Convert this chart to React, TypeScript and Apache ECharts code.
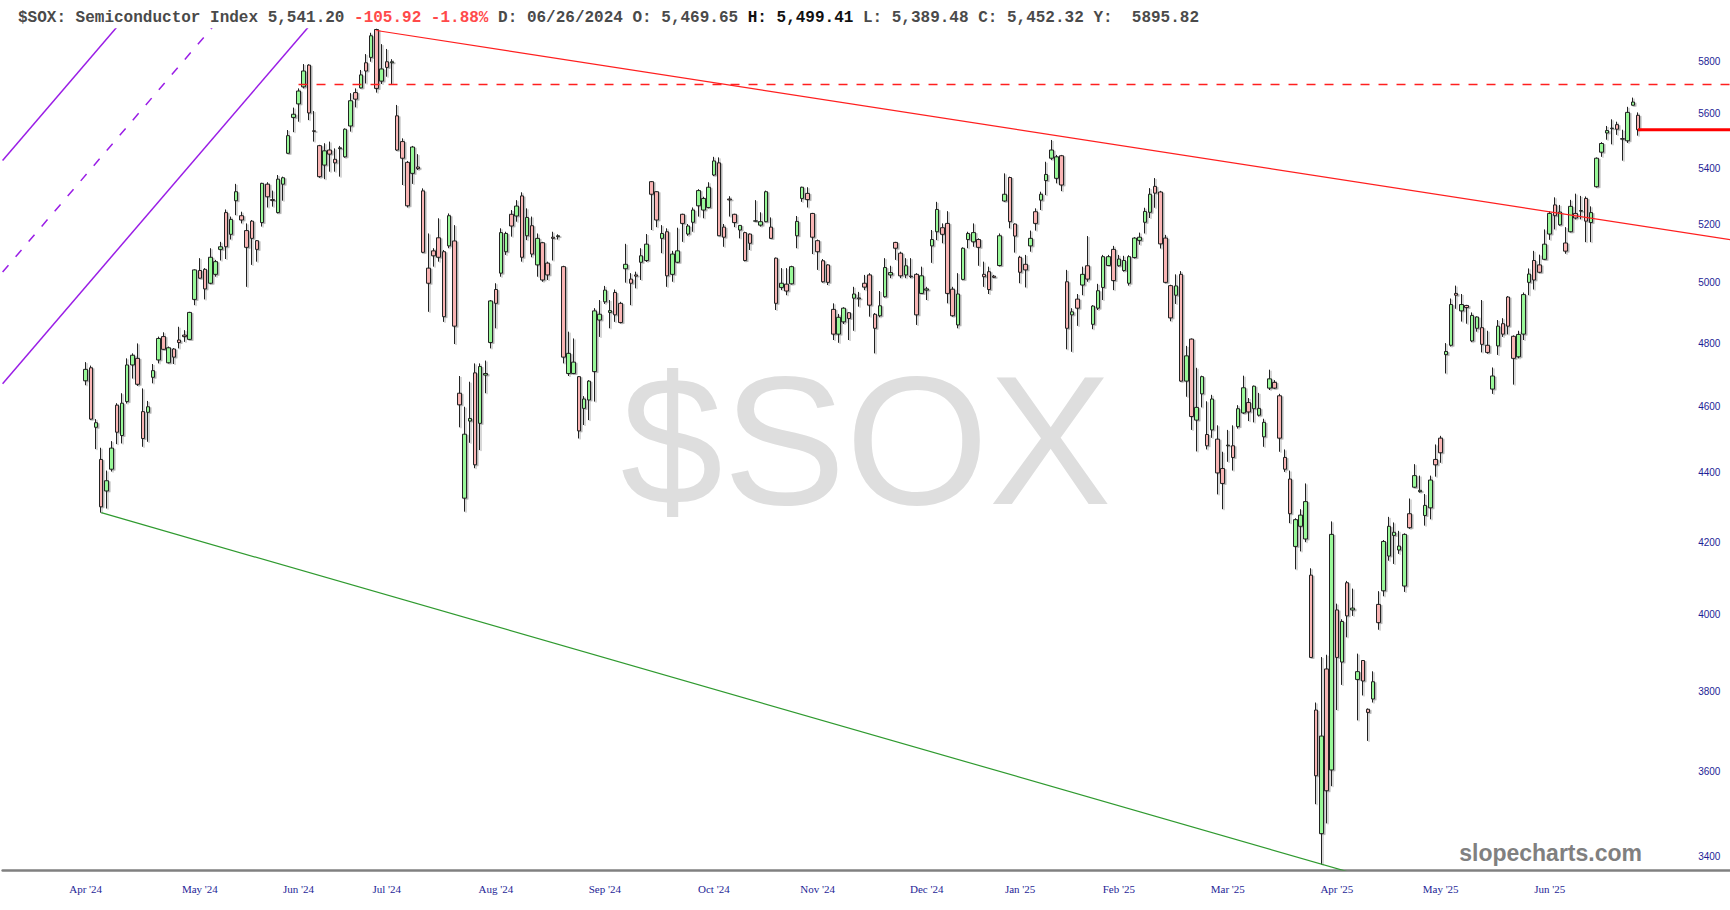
import React, { useEffect, useRef } from 'react';
import * as echarts from 'echarts';

// ---------- DATA ----------
const openP = [
  4681,4722,4537,4440,4347,4411,4605,4512,4616,4731,
  4752,4585,4583,4692,4747,4822,4738,4782,4811,4827,
  4813,4944,5041,5045,4998,5028,5113,5241,5165,5283,
  5230,5178,5211,5143,5206,5342,5287,5241,5342,5454,
  5587,5638,5703,5787,5537,5482,5411,5466,5432,5471,
  5441,5555,5681,5699,5796,5817,5927,5725,5800,5796,
  5593,5497,5421,5381,5404,5318,5049,5108,5153,5105,
  5125,5142,4642,4326,4556,4706,4549,4699,4803,4977,
  5032,5105,5235,5229,5300,5160,5195,5060,5136,5066,
  5155,5157,5054,4704,4704,4694,4595,4621,4710,4876,
  4936,4901,4967,4931,5047,5012,5026,5069,5075,5351,
  5315,5151,5174,5028,5069,5235,5166,5207,5265,5250,
  5259,5375,5419,5190,5289,5235,5180,5171,5166,5211,
  5197,5209,5190,5083,4984,4995,4996,5160,5291,5309,
  5238,5143,5074,5060,4911,4830,4870,4900,4948,4949,
  4998,5026,4895,4890,4953,5026,5137,5100,5026,5022,
  5028,4964,4975,5125,5174,5188,5203,4978,4860,5011,
  5147,5139,5147,5028,5037,5022,5058,5282,5366,5201,
  5086,5062,5125,5244,5285,5355,5436,5363,5445,5003,
  4893,4945,4992,5057,4862,4915,4984,5058,5113,5057,
  5041,4998,5085,5144,5207,5242,5334,5314,5152,4990,
  4958,5028,4680,4814,4559,4640,4515,4529,4501,4413,
  4481,4481,4539,4581,4613,4594,4574,4508,4658,4676,
  4634,4446,4382,4188,4245,4209,4108,3752,3453,3857,
  3604,4013,3875,4087,4013,3830,3879,3754,3780,4028,
  4065,4161,4219,4178,4078,4281,4358,4345,4276,4298,
  4440,4504,4764,4794,4964,4906,4924,4808,4849,4851,
  4794,4655,4792,4864,4952,4823,4757,4830,5001,5075,
  5060,5079,5166,5268,5198,5135,5174,5238,5246,5291,
  5206,5333,5458,5529,5545,5560,5508,5500,5633,5595,
];
const highP = [
  4740,4729,4562,4475,4407,4495,4611,4642,4752,4768,
  4800,4657,4618,4734,4822,4836,4790,4785,4854,4843,
  4903,5045,5083,5049,5117,5077,5139,5252,5227,5343,
  5244,5203,5215,5145,5347,5349,5319,5375,5369,5540,
  5624,5697,5791,5790,5611,5485,5491,5497,5472,5481,
  5546,5679,5697,5768,5830,5914,5930,5869,5850,5810,
  5634,5509,5426,5481,5451,5327,5168,5117,5221,5111,
  5238,5197,4696,4600,4678,4736,4736,4745,4942,4998,
  5186,5174,5250,5285,5313,5256,5227,5168,5139,5071,
  5174,5165,5057,4838,4816,4696,4633,4683,4915,4942,
  4989,4942,4977,4936,5132,5032,5037,5117,5166,5353,
  5317,5197,5186,5108,5188,5237,5201,5259,5324,5297,
  5349,5441,5439,5201,5299,5237,5197,5174,5168,5285,
  5242,5319,5224,5085,5049,5049,5057,5229,5333,5331,
  5240,5147,5080,5062,4931,4896,4918,4902,4986,4969,
  5026,5032,4899,4972,5083,5057,5139,5105,5083,5083,
  5032,5054,4986,5180,5279,5203,5246,4986,5032,5120,
  5174,5203,5151,5071,5054,5026,5168,5381,5369,5203,
  5091,5094,5178,5256,5315,5423,5503,5448,5448,5043,
  4915,4962,5054,5159,4925,4996,5094,5094,5125,5094,
  5091,5093,5155,5171,5258,5328,5364,5318,5163,4993,
  5028,5039,4792,4816,4722,4697,4617,4637,4543,4463,
  4529,4543,4605,4697,4627,4666,4643,4563,4716,4683,
  4640,4470,4407,4268,4294,4369,4127,3771,3888,3894,
  4259,4030,3988,4092,4071,3897,3880,3756,3851,4064,
  4206,4272,4256,4232,4225,4325,4426,4392,4338,4392,
  4485,4511,4801,4947,4990,4962,4926,4901,4888,4942,
  4841,4723,4876,4882,4955,4826,4841,4967,5048,5108,
  5095,5182,5246,5295,5268,5190,5286,5308,5300,5298,
  5263,5439,5495,5555,5580,5571,5541,5627,5662,5606,
];
const lowP = [
  4667,4559,4471,4284,4296,4404,4486,4488,4610,4688,
  4665,4478,4493,4673,4736,4779,4736,4734,4784,4805,
  4811,4925,5013,4944,4995,5020,5075,5080,5147,5232,
  5203,4986,5060,5071,5192,5259,5262,5238,5283,5452,
  5532,5571,5697,5577,5497,5365,5360,5387,5387,5369,
  5438,5534,5625,5697,5716,5800,5681,5714,5742,5714,
  5463,5339,5259,5343,5393,5100,4903,5054,5071,4870,
  5117,4798,4537,4287,4490,4414,4468,4642,4784,4849,
  5020,5094,5157,5209,5071,5145,5086,5020,5003,5009,
  5075,5147,4736,4696,4702,4503,4544,4559,4616,4821,
  4929,4849,4870,4865,5000,4925,4981,5009,5070,5180,
  5190,5100,4986,5003,5066,5139,5160,5174,5227,5221,
  5256,5371,5159,5122,5227,5190,5151,5072,5111,5209,
  5192,5207,5149,4909,4975,4958,4994,5117,5279,5259,
  5097,5043,5000,4992,4811,4802,4863,4811,4841,4920,
  4975,4887,4768,4885,4950,5015,5077,5015,5015,5015,
  4860,4962,4942,5067,5145,5134,4931,4887,4849,5008,
  5117,5122,5057,4986,4962,5015,5055,5279,5186,5102,
  4998,4984,5105,5178,5250,5303,5429,5345,5317,4781,
  4773,4857,4958,5003,4846,4909,4942,5057,4975,5054,
  5037,4990,5082,5129,5168,5222,5258,5116,4998,4872,
  4929,4678,4631,4529,4464,4598,4470,4505,4337,4294,
  4433,4407,4533,4578,4556,4552,4570,4478,4652,4655,
  4463,4403,4254,4124,4174,4200,3886,3522,3382,3477,
  3565,3752,3816,3940,3997,3726,3789,3675,3771,3960,
  4050,4148,4139,4167,4062,4238,4356,4342,4247,4265,
  4389,4430,4704,4790,4913,4871,4864,4804,4838,4771,
  4767,4640,4763,4821,4829,4669,4752,4811,4958,4977,
  5032,5077,5146,5182,5195,5098,5172,5217,5217,5138,
  5138,5330,5441,5504,5487,5522,5427,5492,5632,5519,
];
const closeP = [
  4717,4562,4551,4301,4377,4474,4522,4611,4731,4762,
  4670,4503,4600,4713,4816,4781,4786,4756,4803,4822,
  4901,5043,5015,4979,5086,5071,5122,5122,5217,5315,
  5215,5120,5151,5113,5345,5297,5284,5360,5365,5519,
  5599,5687,5764,5604,5535,5369,5463,5451,5419,5474,
  5543,5650,5656,5749,5764,5902,5697,5772,5778,5800,
  5466,5436,5265,5477,5398,5103,4998,5091,5086,4887,
  5230,4856,4606,4516,4564,4424,4726,4704,4939,4931,
  5171,5168,5194,5264,5086,5224,5097,5151,5009,5026,
  5151,5160,4756,4768,4740,4526,4624,4680,4906,4895,
  4975,4907,4893,4868,5062,4998,5022,5091,5131,5306,
  5215,5168,5023,5097,5108,5203,5194,5250,5319,5291,
  5331,5426,5160,5155,5286,5206,5196,5075,5134,5212,
  5209,5315,5151,4931,4998,4972,5054,5210,5331,5287,
  5155,5105,5003,5001,4830,4885,4915,4881,4962,4946,
  4985,4925,4849,4923,5051,5034,5117,5023,5057,5020,
  4893,5023,4979,5147,5252,5165,4964,4890,4962,5117,
  5168,5171,5120,5020,4977,5018,5160,5306,5209,5159,
  5035,5043,5151,5203,5306,5377,5466,5441,5339,4849,
  4903,4915,5028,5012,4922,4973,5088,5088,5007,5080,
  5075,5088,5152,5155,5245,5306,5310,5132,5001,4883,
  4989,4680,4760,4570,4598,4694,4481,4624,4400,4369,
  4483,4446,4594,4659,4584,4664,4595,4552,4687,4658,
  4504,4411,4281,4264,4277,4316,3887,3590,3687,3554,
  4222,3887,3982,3997,4018,3850,3826,3746,3824,3979,
  4202,4245,4228,4189,4222,4241,4392,4349,4305,4379,
  4424,4460,4774,4927,4958,4927,4917,4891,4886,4797,
  4771,4696,4856,4830,4856,4752,4829,4960,5029,5009,
  5035,5131,5238,5230,5243,5107,5263,5222,5248,5211,
  5241,5436,5490,5538,5547,5543,5506,5606,5645,5541.2,
];

// month tick labels and the candle (1-based) under each
const monthLabels = ["Apr '24", "May '24", "Jun '24", "Jul '24", "Aug '24", "Sep '24", "Oct '24", "Nov '24", "Dec '24", "Jan '25", "Feb '25", "Mar '25", "Apr '25", "May '25", "Jun '25"];
const monthLabelCandles = [1, 23, 42, 59, 80, 101, 122, 142, 163, 181, 200, 221, 242, 262, 283];

const yTicks = [3400, 3600, 3800, 4000, 4200, 4400, 4600, 4800, 5000, 5200, 5400, 5600, 5800];

// slots on the time axis: empty before first candle / after last
const PAD_BEFORE = 15; // candle n sits at slot n + 15
const SLOTS = 334;

// drawn trend lines: [slot, price]
const purpleUpper = [[0, 5428], [30, 6133]];
const purpleMid = [[0, 5036], [50, 6172]];
const purpleLower = [[0, 4672], [70, 6211]];
const redResistance = [[72, 5923], [333, 5146]];
const redDashedLevel = [[57, 5712], [333, 5712]];
const greenSupport = [[19, 4284], [333, 3125]];
const lastPriceLine = [[315, 5541.2], [333, 5541.2]];

const header =
  '{n|$SOX: Semiconductor Index 5,541.20 }{r|-105.92 -1.88% }{n|D: 06/26/2024 O: 5,469.65 }{b|H: 5,499.41 }{n|L: 5,389.48 C: 5,452.32 Y:  }{n|5895.82}';

export default function App() {
  const ref = useRef<HTMLDivElement>(null);

  useEffect(() => {
    document.body.style.margin = '0';
    if (!ref.current) return;
    const chart = echarts.init(ref.current, undefined, { renderer: 'svg' });

    const categories = Array.from({ length: SLOTS }, (_, i) => 's' + i);
    const labelAt = new Map<number, string>();
    monthLabelCandles.forEach((c, i) => labelAt.set(c + PAD_BEFORE, monthLabels[i]));
    const candleData = openP.map((o, i) => [i + 1 + PAD_BEFORE, o, closeP[i], lowP[i], highP[i]]);

    const lineSeries = (data: number[][], color: string, width: number, type: any = 'solid') => ({
      type: 'line',
      data,
      symbol: 'none',
      showSymbol: false,
      silent: true,
      clip: true,
      z: 4,
      lineStyle: { color, width, type },
    });

    const navy = '#1e1e96';

    chart.setOption({
      animation: false,
      backgroundColor: '#ffffff',
      title: {
        left: 13,
        top: 5,
        text: header,
        textStyle: {
          rich: {
            n: { fontFamily: 'Liberation Mono', fontSize: 16, lineHeight: 16, color: '#4a4a4a' },
            r: { fontFamily: 'Liberation Mono', fontSize: 16, lineHeight: 16, color: '#ff4a4a' },
            b: { fontFamily: 'Liberation Mono', fontSize: 16, lineHeight: 16, color: '#111111', fontWeight: 'bold' },
          },
        },
      },
      grid: { left: 2.6, right: -1.4, top: 29, bottom: 40, containLabel: false, outerBoundsMode: 'none' },
      xAxis: {
        type: 'category',
        data: categories,
        boundaryGap: false,
        axisLine: { show: true, lineStyle: { color: '#808080', width: 2.5 } },
        axisTick: { show: false },
        splitLine: { show: false },
        axisLabel: {
          interval: (idx: number) => labelAt.has(idx),
          formatter: (_v: string, idx: number) => labelAt.get(idx) ?? '',
          color: navy,
          fontFamily: 'Liberation Serif',
          fontSize: 11,
          margin: 13,
        },
      },
      yAxis: {
        type: 'log',
        logBase: 10,
        position: 'right',
        min: 3369.7,
        max: 5929,
        axisLine: { show: false },
        axisTick: { show: false },
        splitLine: { show: false },
        axisLabel: {
          inside: true,
          customValues: yTicks,
          formatter: (v: number) => String(Math.round(v)),
          color: navy,
          fontFamily: 'Liberation Sans',
          fontSize: 10,
          margin: 11,
        },
      },
      graphic: {
        elements: [
          {
            type: 'text',
            z: -10,
            silent: true,
            style: {
              text: '$SOX',
              x: 866,
              y: 440,
              align: 'center',
              verticalAlign: 'middle',
              font: '184px "Liberation Sans"',
              fill: '#dedede',
            },
          },
          {
            type: 'text',
            z: 10,
            silent: true,
            style: {
              text: 'slopecharts.com',
              x: 1642,
              y: 853,
              align: 'right',
              verticalAlign: 'middle',
              font: 'bold 23px "Liberation Sans"',
              fill: '#808080',
            },
          },
        ],
      },
      series: [
        {
          type: 'candlestick',
          data: candleData,
          encode: { x: 0, y: [1, 2, 3, 4] },
          barWidth: 4,
          z: 3,
          itemStyle: {
            color: '#98f898',
            color0: '#f9b4b4',
            borderColor: '#222222',
            borderColor0: '#222222',
            borderColorDoji: '#222222',
            borderWidth: 1,
            shadowColor: 'rgba(0,0,0,0.3)',
            shadowOffsetX: 1.5,
            shadowOffsetY: 1,
            shadowBlur: 1,
          },
        },
        lineSeries(purpleUpper, '#9a1ee6', 1.5),
        lineSeries(purpleMid, '#9a1ee6', 1.5, [9, 11]),
        lineSeries(purpleLower, '#9a1ee6', 1.5),
        lineSeries(redResistance, '#ff1f1f', 1.2),
        lineSeries(redDashedLevel, '#ff1f1f', 1.5, [9, 9]),
        lineSeries(greenSupport, '#2f9a2f', 1.2),
        lineSeries(lastPriceLine, '#ff0000', 3),
      ],
    });

    return () => chart.dispose();
  }, []);

  return <div ref={ref} style={{ position: 'absolute', left: 0, top: 0, width: 1730, height: 910 }} />;
}
